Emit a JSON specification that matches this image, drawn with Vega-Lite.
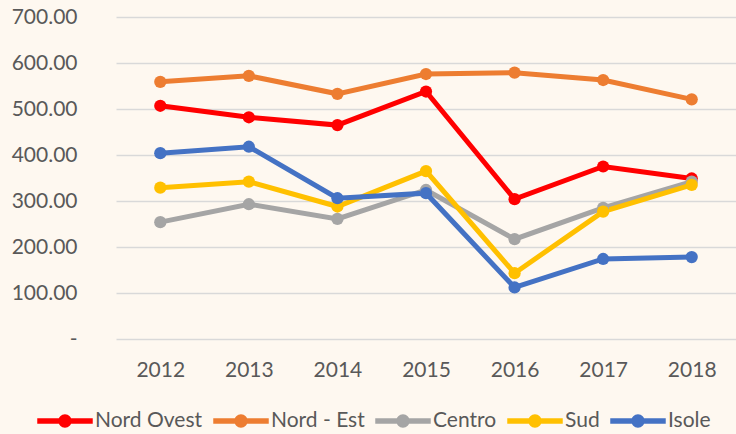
{
  "$schema": "https://vega.github.io/schema/vega-lite/v6.json",
  "autosize": "none",
  "width": 620,
  "height": 322,
  "padding": {"left": 116, "top": 17, "right": 0, "bottom": 95},
  "background": "#FEF8F0",
  "config": {
    "view": {"stroke": null},
    "font": "Lato",
    "axis": {"labelFont": "Lato", "labelFontSize": 21, "labelColor": "#595959", "ticks": false, "domain": false, "title": null},
    "legend": {"labelFont": "Lato", "labelFontSize": 21, "labelColor": "#595959"}
  },
  "data": {
    "values": [
      {"regione": "Nord Ovest", "anno": "2012", "valore": 507},
      {"regione": "Nord Ovest", "anno": "2013", "valore": 482},
      {"regione": "Nord Ovest", "anno": "2014", "valore": 465},
      {"regione": "Nord Ovest", "anno": "2015", "valore": 538},
      {"regione": "Nord Ovest", "anno": "2016", "valore": 304},
      {"regione": "Nord Ovest", "anno": "2017", "valore": 375},
      {"regione": "Nord Ovest", "anno": "2018", "valore": 349},
      {"regione": "Nord - Est", "anno": "2012", "valore": 559},
      {"regione": "Nord - Est", "anno": "2013", "valore": 572},
      {"regione": "Nord - Est", "anno": "2014", "valore": 533},
      {"regione": "Nord - Est", "anno": "2015", "valore": 576},
      {"regione": "Nord - Est", "anno": "2016", "valore": 579},
      {"regione": "Nord - Est", "anno": "2017", "valore": 563},
      {"regione": "Nord - Est", "anno": "2018", "valore": 521},
      {"regione": "Centro", "anno": "2012", "valore": 254},
      {"regione": "Centro", "anno": "2013", "valore": 293},
      {"regione": "Centro", "anno": "2014", "valore": 261},
      {"regione": "Centro", "anno": "2015", "valore": 324},
      {"regione": "Centro", "anno": "2016", "valore": 217},
      {"regione": "Centro", "anno": "2017", "valore": 285},
      {"regione": "Centro", "anno": "2018", "valore": 342},
      {"regione": "Sud", "anno": "2012", "valore": 329},
      {"regione": "Sud", "anno": "2013", "valore": 342},
      {"regione": "Sud", "anno": "2014", "valore": 288},
      {"regione": "Sud", "anno": "2015", "valore": 365},
      {"regione": "Sud", "anno": "2016", "valore": 143},
      {"regione": "Sud", "anno": "2017", "valore": 277},
      {"regione": "Sud", "anno": "2018", "valore": 335},
      {"regione": "Isole", "anno": "2012", "valore": 404},
      {"regione": "Isole", "anno": "2013", "valore": 418},
      {"regione": "Isole", "anno": "2014", "valore": 306},
      {"regione": "Isole", "anno": "2015", "valore": 317},
      {"regione": "Isole", "anno": "2016", "valore": 112},
      {"regione": "Isole", "anno": "2017", "valore": 174},
      {"regione": "Isole", "anno": "2018", "valore": 178}
    ]
  },
  "encoding": {
    "x": {"field": "anno", "type": "ordinal", "axis": {"labelAngle": 0, "labelPadding": 20, "grid": false}},
    "y": {"field": "valore", "type": "quantitative", "scale": {"domain": [0, 700]}, "axis": {"values": [0,100,200,300,400,500,600,700], "grid": true, "gridColor": "#D9D9D9", "gridWidth": 1.5, "labelPadding": 39, "labelExpr": "datum.value == 0 ? '-' : format(datum.value, '.2f')"}},
    "color": {
      "field": "regione", "type": "nominal",
      "scale": {"domain": ["Nord Ovest", "Nord - Est", "Centro", "Sud", "Isole"], "range": ["#FF0000", "#ED7D31", "#A5A5A5", "#FFC000", "#4472C4"]},
      "legend": {"title": null, "orient": "none", "direction": "horizontal", "legendX": -79, "legendY": 376, "symbolType": "M-1,-0.1H1V0.1H-1Z M0.24,0A0.24,0.24 0 1,1 -0.24,0A0.24,0.24 0 1,1 0.24,0Z", "symbolSize": 3080, "symbolStrokeWidth": 0, "labelOffset": 2, "columnPadding": 10}
    },
    "order": {"field": "anno"}
  },
  "layer": [
    {"mark": {"type": "line", "strokeWidth": 5}},
    {"mark": {"type": "point", "filled": true, "size": 150, "opacity": 1}}
  ]
}
